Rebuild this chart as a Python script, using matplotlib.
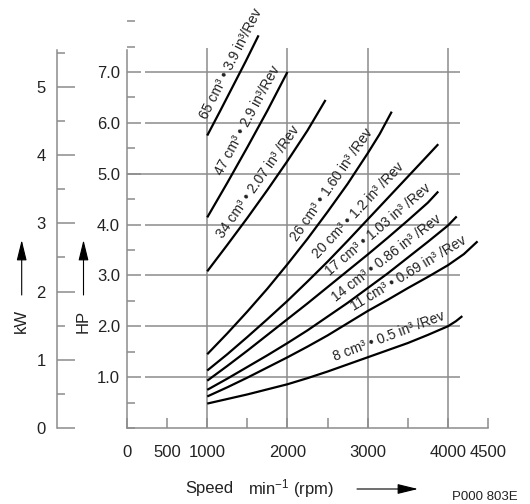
import numpy as np
import matplotlib
matplotlib.use("Agg")
import matplotlib.pyplot as plt
from matplotlib.ticker import FixedLocator, MultipleLocator

plt.rcParams["font.family"] = ["Liberation Sans", "DejaVu Sans"]
plt.rcParams["mathtext.fontset"] = "custom"
plt.rcParams["mathtext.rm"] = "Liberation Sans"
plt.rcParams["mathtext.it"] = "Liberation Sans:italic"

# Input power (HP) vs. shaft speed (rpm) per displacement
RPM_65 = [1000, 1160, 1320, 1480, 1640]
HP_65 = [5.75, 6.23, 6.72, 7.21, 7.72]
RPM_47 = [1000, 1250, 1500, 1750, 2000]
HP_47 = [4.14, 4.82, 5.52, 6.24, 7.00]
RPM_34 = [1000, 1250, 1500, 1750, 2000, 2250, 2475]
HP_34 = [3.08, 3.60, 4.13, 4.68, 5.25, 5.85, 6.45]
RPM_26 = [1000, 1250, 1500, 1750, 2000, 2250, 2500, 2750, 3000, 3150, 3300]
HP_26 = [1.45, 1.86, 2.29, 2.74, 3.22, 3.72, 4.25, 4.80, 5.40, 5.78, 6.22]
RPM_20 = [1000, 1250, 1500, 1750, 2000, 2250, 2500, 2750, 3000, 3250, 3500, 3750, 3880]
HP_20 = [1.13, 1.45, 1.79, 2.14, 2.50, 2.88, 3.27, 3.68, 4.10, 4.52, 4.94, 5.36, 5.58]
RPM_17 = [1000, 1250, 1500, 1750, 2000, 2250, 2500, 2750, 3000, 3250, 3500, 3750, 3880]
HP_17 = [0.93, 1.22, 1.52, 1.83, 2.14, 2.45, 2.77, 3.09, 3.41, 3.74, 4.08, 4.43, 4.65]
RPM_14 = [1000, 1250, 1500, 1750, 2000, 2250, 2500, 2750, 3000, 3250, 3500, 3750, 4000, 4110]
HP_14 = [0.75, 0.97, 1.20, 1.43, 1.67, 1.92, 2.19, 2.46, 2.75, 3.04, 3.35, 3.66, 3.98, 4.16]
RPM_11 = [1000, 1250, 1500, 1750, 2000, 2250, 2500, 2750, 3000, 3250, 3500, 3750, 4000, 4200, 4370]
HP_11 = [0.62, 0.80, 0.99, 1.19, 1.39, 1.60, 1.82, 2.06, 2.30, 2.52, 2.75, 2.97, 3.20, 3.42, 3.67]
RPM_8 = [1000, 1250, 1500, 1750, 2000, 2250, 2500, 2750, 3000, 3250, 3500, 3750, 4000, 4100, 4180]
HP_8 = [0.48, 0.57, 0.66, 0.76, 0.86, 0.98, 1.11, 1.25, 1.39, 1.53, 1.67, 1.83, 2.00, 2.10, 2.20]

LABELS = [
    "65 cm³ • 3.9 in³/Rev",
    "47 cm³ • 2.9 in³/Rev",
    "34 cm³ • 2.07 in³ /Rev",
    "26 cm³ • 1.60 in³ /Rev",
    "20 cm³ • 1.2 in³ /Rev",
    "17 cm³ • 1.03 in³ /Rev",
    "14 cm³ • 0.86 in³ /Rev",
    "11 cm³ • 0.69 in³ /Rev",
    "8 cm³ • 0.5 in³ /Rev",
]
CURVES = [
    (RPM_65, HP_65), (RPM_47, HP_47), (RPM_34, HP_34),
    (RPM_26, HP_26), (RPM_20, HP_20), (RPM_17, HP_17),
    (RPM_14, HP_14), (RPM_11, HP_11), (RPM_8, HP_8),
]
# where along each curve the label sits (rpm) and the half-span used for its slope
LABEL_AT = [1430, 1640, 1760, 2680, 3000, 3230, 3330, 3590, 3320]
LABEL_SPAN = [200, 250, 300, 400, 450, 550, 600, 650, 650]

HP_TICKS = [1.0, 2.0, 3.0, 4.0, 5.0, 6.0, 7.0]
KW_TICKS = [0, 1, 2, 3, 4, 5]
RPM_TICKS = [0, 500, 1000, 2000, 3000, 4000, 4500]
RPM_GRID = [1000, 2000, 3000, 4000]

HP_PER_KW = 1.341
GREY = "#8c8c8c"
INK = "#222222"

W, H = 530, 504
fig = plt.figure(figsize=(W / 100, H / 100), dpi=100)

px_per_hp = 50.86
y0 = H - 428
ax_h = 8.0 * px_per_hp
ax = fig.add_axes([127 / W, y0 / H, 361 / W, ax_h / H])
ax.set_xlim(0, 4500)
ax.set_ylim(0, 8.0)
ax.patch.set_alpha(0)

for s in ("top", "right"):
    ax.spines[s].set_visible(False)
for s in ("left", "bottom"):
    ax.spines[s].set_color(GREY)
    ax.spines[s].set_linewidth(1.1)
ax.spines["left"].set_bounds(0, 7.43)
ax.spines["bottom"].set_bounds(0, 4500)

# grid
for hp in HP_TICKS:
    start = 0 if hp == 5.0 else 220
    ax.hlines(hp, start, 4150, color=GREY, lw=1.1, zorder=1)
ax.vlines(RPM_GRID, 0, 7.47, color=GREY, lw=1.1, zorder=1)

ax.yaxis.set_major_locator(FixedLocator(HP_TICKS))
ax.yaxis.set_minor_locator(MultipleLocator(0.5))
ax.set_yticklabels([f"{v:.1f}" for v in HP_TICKS])
ax.xaxis.set_major_locator(FixedLocator(RPM_TICKS))
ax.xaxis.set_minor_locator(MultipleLocator(500))
ax.set_xticklabels([str(v) for v in RPM_TICKS])
ax.tick_params(axis="y", which="major", direction="in", length=10, width=1.1,
               color=GREY, labelsize=12, labelcolor=INK, pad=5)
ax.tick_params(axis="y", which="minor", direction="in", length=6, width=1.1, color=GREY)
ax.tick_params(axis="x", which="both", direction="in", length=7, width=1.1,
               color=GREY, labelsize=12, labelcolor=INK, pad=12)

for (rpm, hp) in CURVES:
    ax.plot(rpm, hp, color="black", lw=1.6, solid_capstyle="butt",
            solid_joinstyle="round", zorder=3)


def curve_label(rpm, hp, at, span, text, gap=12.5):
    y = np.interp(at, rpm, hp)
    lo, hi = max(at - span, rpm[0]), min(at + span, rpm[-1])
    p0 = ax.transData.transform((lo, np.interp(lo, rpm, hp)))
    p1 = ax.transData.transform((hi, np.interp(hi, rpm, hp)))
    ang = np.arctan2(p1[1] - p0[1], p1[0] - p0[0])
    off = (-np.sin(ang) * gap, np.cos(ang) * gap)
    ax.annotate(text, xy=(at, y), xytext=off, textcoords="offset pixels",
                rotation=np.degrees(ang), rotation_mode="anchor",
                ha="center", va="center", fontsize=10, color=INK, zorder=4)


for (rpm, hp), at, span, text in zip(CURVES, LABEL_AT, LABEL_SPAN, LABELS):
    curve_label(rpm, hp, at, span, text)

# kW scale on the far left
kax = fig.add_axes([57 / W, y0 / H, 0.0001, ax_h / H])
kax.set_ylim(0, 8.0 / HP_PER_KW)
kax.patch.set_alpha(0)
for s in ("top", "right", "bottom"):
    kax.spines[s].set_visible(False)
kax.spines["left"].set_color(GREY)
kax.spines["left"].set_linewidth(1.1)
kax.spines["left"].set_bounds(0, 5.54)
kax.set_xticks([])
kax.yaxis.set_major_locator(FixedLocator(KW_TICKS))
kax.yaxis.set_minor_locator(MultipleLocator(0.5))
kax.set_yticklabels([str(v) for v in KW_TICKS])
kax.tick_params(axis="y", which="major", direction="in", length=13, width=1.1,
                color=GREY, labelsize=12, labelcolor=INK, pad=8)
kax.tick_params(axis="y", which="minor", direction="in", length=6, width=1.1, color=GREY)

# axis names and arrows
fig.text(21.5 / W, 1 - 321 / H, "kW", rotation=90, ha="center", va="center",
         fontsize=12, color=INK)
fig.text(83 / W, 1 - 321 / H, "HP", rotation=90, ha="center", va="center",
         fontsize=12, color=INK)
arrow = dict(arrowstyle="-|>,head_length=0.9,head_width=0.22", color="black",
             lw=0.8, mutation_scale=14, shrinkA=0, shrinkB=0)
for xa in (21.7, 83.5):
    ax.annotate("", xy=(xa, H - 240), xytext=(xa, H - 295),
                xycoords="figure pixels", textcoords="figure pixels", arrowprops=arrow)
ax.annotate("", xy=(418, H - 489), xytext=(357, H - 489),
            xycoords="figure pixels", textcoords="figure pixels", arrowprops=arrow)

fig.text(185 / W, 1 - 489 / H, "Speed", ha="left", va="center", fontsize=12, color=INK)
fig.text(248 / W, 1 - 489 / H, r"min$^{-1}$ (rpm)", ha="left", va="center",
         fontsize=12, color=INK)
fig.text(452 / W, 1 - 497 / H, "P000 803E", ha="left", va="center",
         fontsize=9.5, color=INK)

fig.savefig("out.png", dpi=100)
